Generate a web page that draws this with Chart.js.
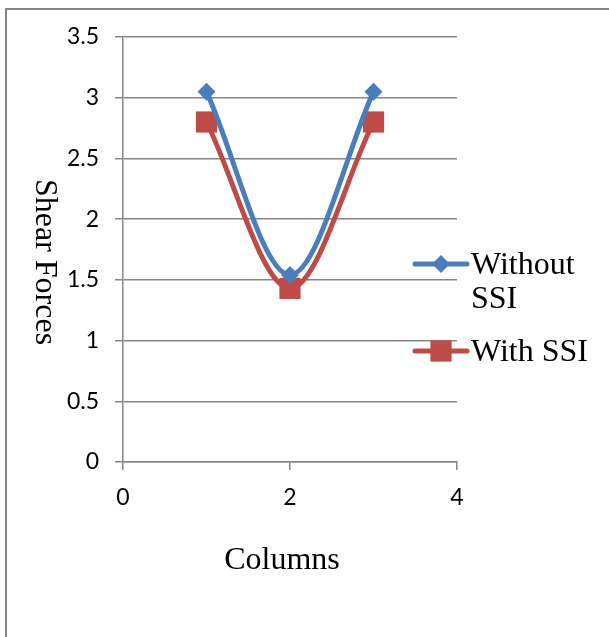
<!DOCTYPE html>
<html>
<head>
<meta charset="utf-8">
<script src="https://cdn.jsdelivr.net/npm/chart.js@4"></script>
<style>
  html, body { margin: 0; padding: 0; background: #fff; }
  #wrap { width: 609px; height: 637px; position: relative; }
</style>
</head>
<body>
<div id="wrap"><canvas id="chart" width="609" height="637"></canvas></div>
<script>
const columns = [1, 2, 3];
const withoutSSI = [3.05, 1.54, 3.05];
const withSSI = [2.8, 1.43, 2.8];
const xTicks = [0, 2, 4];
const yTicks = [0, 0.5, 1, 1.5, 2, 2.5, 3, 3.5];
const seriesNames = ["Without SSI", "With SSI"];

const BLUE = "#4a7ebb";
const RED = "#be4b48";
const GRID = "#868686";
const TICK_FONT = { family: "Lato, Liberation Sans, Arial", size: 23 };
const SERIF = "Liberation Serif, Times New Roman, serif";

function toPoints(xs, ys) {
  return xs.map((x, i) => ({ x: x, y: ys[i] }));
}

// frame, rotated y title, x title and the legend
const decorations = {
  id: "decorations",
  beforeDraw(chart) {
    const ctx = chart.ctx;
    ctx.save();
    ctx.strokeStyle = GRID;
    ctx.lineWidth = 2;
    ctx.strokeRect(6, 9, 800, 800);
    ctx.restore();
  },
  afterDraw(chart) {
    const ctx = chart.ctx;
    ctx.save();
    ctx.fillStyle = "#000";
    ctx.font = "32px " + SERIF;
    ctx.textAlign = "center";
    ctx.textBaseline = "middle";

    // y title reads top to bottom
    ctx.save();
    ctx.translate(44, 262);
    ctx.rotate(Math.PI / 2);
    ctx.fillText("Shear Forces", 0, 0);
    ctx.restore();

    ctx.fillText("Columns", 282, 561);

    // legend
    const items = [
      { color: BLUE, style: "rectRot", radius: 9, y: 264, lines: ["Without", "SSI"] },
      { color: RED, style: "rect", radius: 15, y: 351, lines: [seriesNames[1]] },
    ];
    ctx.textAlign = "left";
    items.forEach((it) => {
      ctx.strokeStyle = it.color;
      ctx.lineWidth = 5;
      ctx.lineCap = "round";
      ctx.beginPath();
      ctx.moveTo(415, it.y);
      ctx.lineTo(467, it.y);
      ctx.stroke();
      ctx.fillStyle = it.color;
      Chart.helpers.drawPoint(ctx, { pointStyle: it.style, radius: it.radius, borderWidth: 0 }, 441, it.y);
      ctx.fillStyle = "#000";
      it.lines.forEach((t, i) => ctx.fillText(t, 471, it.y + 2 + i * 34));
    });
    ctx.restore();
  },
};

new Chart(document.getElementById("chart"), {
  type: "scatter",
  data: {
    datasets: [
      {
        label: seriesNames[0],
        data: toPoints(columns, withoutSSI),
        showLine: true,
        borderColor: BLUE,
        backgroundColor: BLUE,
        borderWidth: 5,
        tension: 0.33,
        pointStyle: "rectRot",
        pointRadius: 9,
        pointBorderWidth: 0,
      },
      {
        label: seriesNames[1],
        data: toPoints(columns, withSSI),
        showLine: true,
        borderColor: RED,
        backgroundColor: RED,
        borderWidth: 5,
        tension: 0.33,
        pointStyle: "rect",
        pointRadius: 15,
        pointBorderWidth: 0,
      },
    ],
  },
  options: {
    responsive: false,
    animation: false,
    events: [],
    layout: { padding: { top: 37, right: 152, bottom: 0, left: 0 } },
    plugins: { legend: { display: false }, tooltip: { enabled: false } },
    scales: {
      x: {
        type: "linear",
        min: 0,
        max: 4,
        afterBuildTicks: (s) => { s.ticks = xTicks.map((v) => ({ value: v })); },
        afterFit: (s) => { s.height = 637 - 462; },
        grid: { drawOnChartArea: false, color: GRID, tickLength: 8, lineWidth: 1.5 },
        border: { color: GRID, width: 1.5 },
        ticks: { color: "#000", font: TICK_FONT, padding: 14, callback: (v) => String(v) },
      },
      y: {
        min: 0,
        max: 3.5,
        afterBuildTicks: (s) => { s.ticks = yTicks.map((v) => ({ value: v })); },
        afterFit: (s) => { s.width = 123; },
        grid: { color: GRID, tickLength: 8, lineWidth: 1.5 },
        border: { color: GRID, width: 1.5 },
        ticks: { color: "#000", font: TICK_FONT, padding: 16, callback: (v) => String(v) },
      },
    },
  },
  plugins: [decorations],
});
</script>
</body>
</html>
